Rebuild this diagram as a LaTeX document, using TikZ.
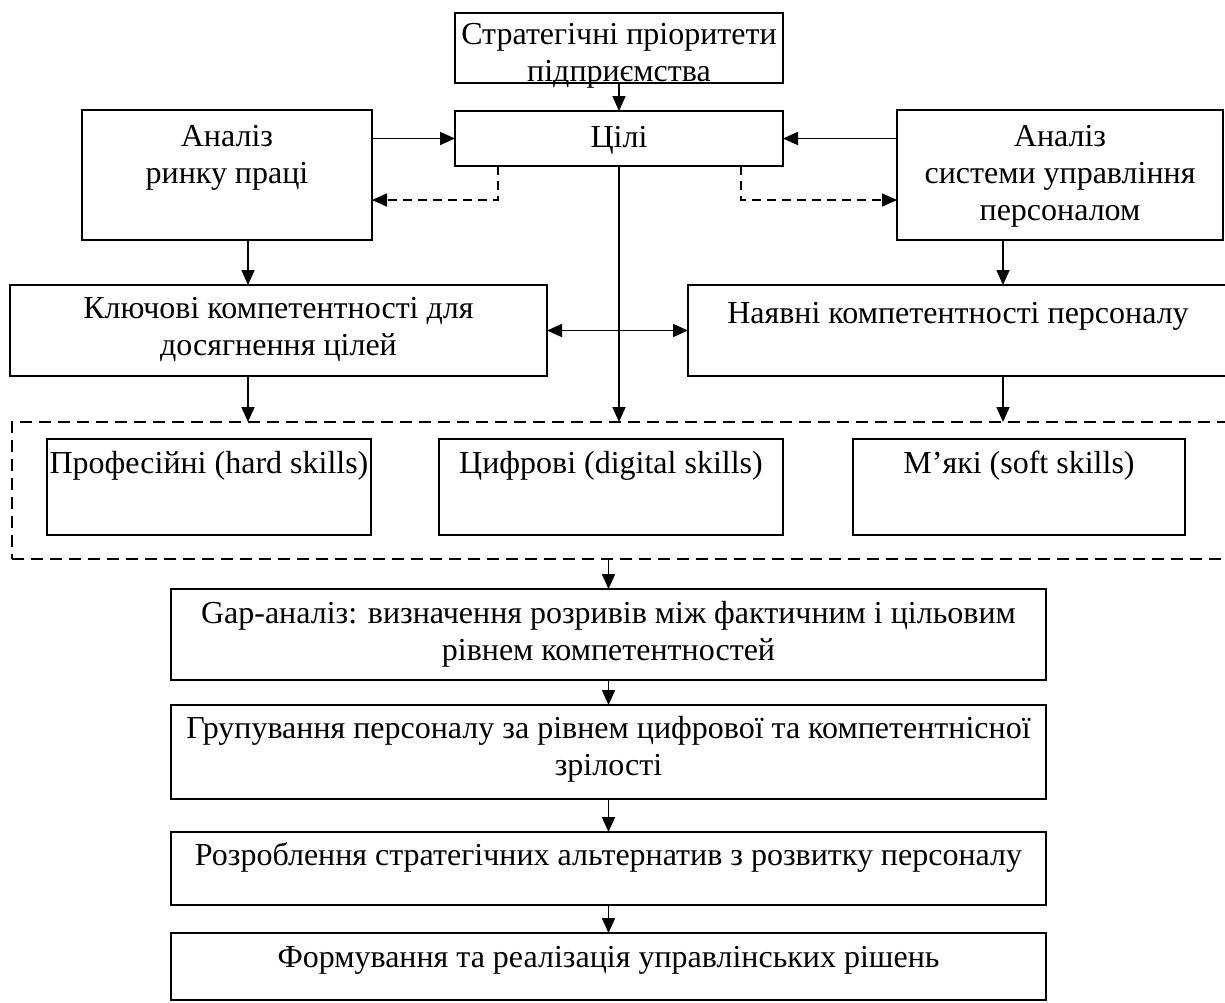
\documentclass[tikz,border=0pt]{standalone}
\usepackage{fontspec}
\setmainfont{Liberation Serif}
\usetikzlibrary{arrows.meta}
\tikzset{
  box/.style={draw, line width=1.7pt, rectangle, inner sep=0pt, outer sep=0pt},
  dbox/.style={box, dash pattern=on 12pt off 7pt},
  txt/.style={anchor=north, inner sep=0pt, align=center, font=\fontsize{32}{37}\selectfont, execute at begin node=\strut},
  arr/.style={line width=1.7pt, -{Triangle[length=15pt,width=13pt]}},
  darr/.style={arr, dash pattern=on 9pt off 6pt},
  biarr/.style={line width=1.7pt, {Triangle[length=15pt,width=13pt]}-{Triangle[length=15pt,width=13pt]}},
}
\newcommand\mybox[6]{%
  \node[box,#6,minimum width={(#4)-(#2)},minimum height={(#5)-(#3)}] (#1) at ({((#2)+(#4))/2},{((#3)+(#5))/2}) {};}
\begin{document}
\begin{tikzpicture}[x=1pt,y=-1pt]
\useasboundingbox (0,0) rectangle (1225,1002);
% boxes
\mybox{strat}{455}{13}{783}{83}{}
\mybox{tsili}{455}{111}{783}{166}{}
\mybox{rynok}{82}{110}{372}{240}{}
\mybox{sys}{897}{110}{1223}{240}{}
\mybox{klyuch}{10}{285}{547}{376}{}
\mybox{nayav}{688}{285}{1228}{376}{}
\mybox{grp}{12}{422}{1236}{559}{dbox}
\mybox{prof}{47}{439}{371}{535}{}
\mybox{tsyfr}{439}{439}{783}{535}{}
\mybox{myaki}{853}{439}{1185}{535}{}
\mybox{gap}{171}{589}{1046}{680}{}
\mybox{grup}{171}{705}{1046}{799}{}
\mybox{rozr}{171}{832}{1046}{905}{}
\mybox{form}{171}{933}{1046}{1000}{}
% texts
\node[txt] (t-strat) at ([yshift=-10pt]strat.north) {Стратегічні пріоритети\\підприємства};
\node[txt] (t-tsili) at ([yshift=-10pt]tsili.north) {Цілі};
\node[txt] (t-rynok) at ([yshift=-15pt]rynok.north) {Аналіз\\ринку праці};
\node[txt] (t-sys) at ([yshift=-15pt]sys.north) {Аналіз\\системи управління\\персоналом};
\node[txt] (t-klyuch) at ([yshift=-12pt]klyuch.north) {Ключові компетентності для\\досягнення цілей};
\node[txt] (t-nayav) at ([yshift=-12pt]nayav.north) {Наявні компетентності персоналу};
\node[txt] (t-prof) at ([yshift=-8pt]prof.north) {Професійні (hard skills)};
\node[txt] (t-tsyfr) at ([yshift=-8pt]tsyfr.north) {Цифрові (digital skills)};
\node[txt] (t-myaki) at ([yshift=-8pt]myaki.north) {М’які (soft skills)};
\node[txt] (t-gap) at ([yshift=-12pt]gap.north) {Gap-аналіз: визначення розривів між фактичним і цільовим\\рівнем компетентностей};
\node[txt] (t-grup) at ([yshift=-11pt]grup.north) {Групування персоналу за рівнем цифрової та компетентнісної\\зрілості};
\node[txt] (t-rozr) at ([yshift=-7pt]rozr.north) {Розроблення стратегічних альтернатив з розвитку персоналу};
\node[txt] (t-form) at ([yshift=-8pt]form.north) {Формування та реалізація управлінських рішень};
% connectors
\draw[arr] (strat.south) -- (tsili.north);
\draw[arr] (rynok.east |- tsili.west) -- (tsili.west);
\draw[arr] (sys.west |- tsili.east) -- (tsili.east);
\draw[darr] ([xshift=43pt]tsili.south west) |- ([yshift=-25pt]rynok.east);
\draw[darr] ([xshift=-42pt]tsili.south east) |- ([yshift=-25pt]sys.west);
\draw[arr] ([xshift=21pt]rynok.south) -- ([xshift=21pt]rynok.south |- klyuch.north);
\draw[arr] ([xshift=21pt]rynok.south |- klyuch.south) -- ([xshift=21pt]rynok.south |- grp.north);
\draw[arr] ([xshift=-57pt]sys.south) -- ([xshift=-57pt]sys.south |- nayav.north);
\draw[arr] ([xshift=-57pt]sys.south |- nayav.south) -- ([xshift=-57pt]sys.south |- grp.north);
\draw[arr] (tsili.south) -- (tsili.south |- grp.north);
\draw[biarr] (klyuch.east) -- (nayav.west);
\draw[arr] (gap.north |- grp.south) -- (gap.north);
\draw[arr] (gap.south) -- (grup.north);
\draw[arr] (grup.south) -- (rozr.north);
\draw[arr] (rozr.south) -- (form.north);
\end{tikzpicture}
\end{document}
